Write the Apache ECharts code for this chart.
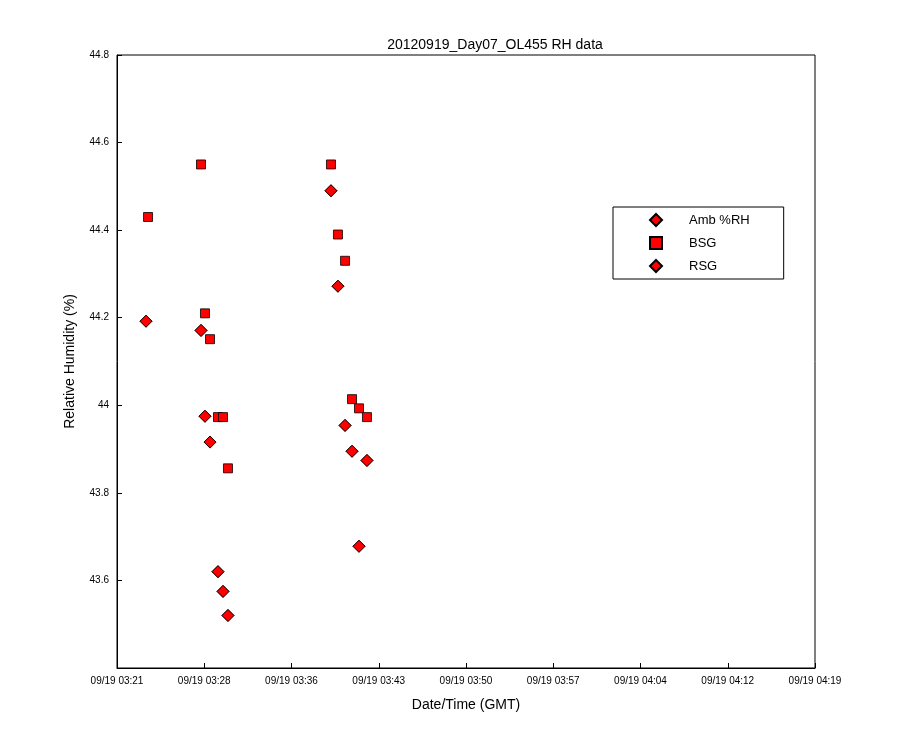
<!DOCTYPE html>
<html><head><meta charset="utf-8">
<script src="https://cdn.jsdelivr.net/npm/echarts@6/dist/echarts.min.js"></script>
<style>html,body{margin:0;background:#fff}#c{width:900px;height:750px}</style>
</head><body><div id="c"></div>
<script>
// x values: minutes after 09/19 03:21
const xTickLabels = ['09/19 03:21','09/19 03:28','09/19 03:36','09/19 03:43','09/19 03:50','09/19 03:57','09/19 04:04','09/19 04:12','09/19 04:19'];
const yTickLabels = ['43.6','43.8','44','44.2','44.4','44.6','44.8'];
const diamondX = [2.41,6.98,7.31,7.73,8.39,8.81,9.22,17.78,18.36,18.95,19.53,20.11,20.77];
const rsgY = [44.192,44.171,43.975,43.916,43.62,43.575,43.52,44.49,44.272,43.954,43.895,43.678,43.874];
const ambY = [44.192,44.171,43.975,43.916,43.62,43.575,43.52,44.49,44.272,43.954,43.895,43.678,43.874];
const squareX = [2.58,6.98,7.31,7.73,8.39,8.81,9.22,17.78,18.36,18.95,19.53,20.11,20.77];
const bsgY = [44.43,44.55,44.21,44.151,43.973,43.973,43.856,44.55,44.39,44.33,44.014,43.993,43.973];

const pairs = (xs, ys) => xs.map((x, i) => [x, ys[i]]);
const ch = echarts.init(document.getElementById('c'));
const mk = (name, sym, size, xs, ys) => ({
  name, type: 'scatter', symbol: sym, symbolSize: size, data: pairs(xs, ys),
  itemStyle: {color: '#ff0000', opacity: 1, borderColor: '#000', borderWidth: 0.8}
});
ch.setOption({
  animation: false,
  textStyle: {fontFamily: 'Liberation Sans, Arial'},
  title: {text: '20120919_Day07_OL455 RH data', left: 490, top: 33, textAlign: 'center',
    textStyle: {fontSize: 14, fontWeight: 'normal', color: '#000'}},
  grid: {left: 117, right: 85, top: 55, bottom: 82, show: true, borderColor: '#000', borderWidth: 1},
  legend: {left: 613, top: 207, orient: 'vertical', backgroundColor: '#fff', borderColor: '#000', borderWidth: 1,
    padding: [6, 34, 6, 36], itemGap: 9, itemWidth: 12, itemHeight: 12,
    textStyle: {fontSize: 13, color: '#000', padding: [0, 0, 0, 22]},
    data: ['Amb %RH', 'BSG', 'RSG']},
  xAxis: {type: 'value', min: 0, max: 58, interval: 7.25, name: 'Date/Time (GMT)', nameLocation: 'middle', nameGap: 30,
    nameTextStyle: {fontSize: 14, color: '#000'},
    axisLine: {lineStyle: {color: '#000'}}, axisTick: {inside: true, length: 5, lineStyle: {color: '#000'}},
    splitLine: {show: false},
    axisLabel: {fontSize: 10, color: '#000', margin: 8, formatter: v => xTickLabels[Math.round(v / 7.25)]}},
  yAxis: {type: 'value', min: 43.4, max: 44.8, interval: 0.2, name: 'Relative Humidity (%)', nameLocation: 'middle', nameGap: 40,
    nameTextStyle: {fontSize: 14, color: '#000'},
    axisLine: {lineStyle: {color: '#000'}}, axisTick: {inside: true, length: 5, lineStyle: {color: '#000'}},
    splitLine: {show: false},
    axisLabel: {fontSize: 10, color: '#000', formatter: v => { const s = yTickLabels.find(t => Math.abs(parseFloat(t) - v) < 1e-6); return s || ''; }}},
  series: [
    mk('Amb %RH', 'diamond', 12, diamondX, ambY),
    mk('BSG', 'rect', 9, squareX, bsgY),
    mk('RSG', 'diamond', 12, diamondX, rsgY)
  ]
});
</script></body></html>
